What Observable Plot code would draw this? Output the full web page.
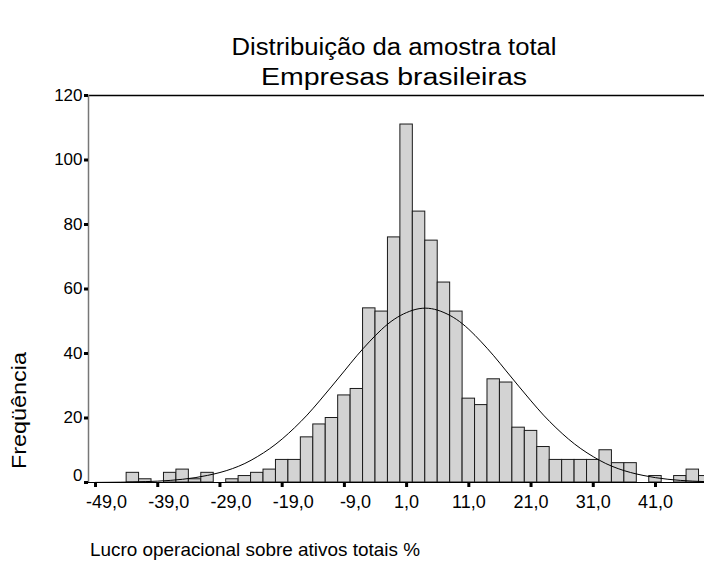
<!DOCTYPE html>
<html><head><meta charset="utf-8">
<script src="https://cdn.jsdelivr.net/npm/d3@7"></script>
<script src="https://cdn.jsdelivr.net/npm/@observablehq/plot@0.6"></script>
<style>
body{margin:0;background:#fff}
#chart{position:relative;width:704px;height:567px;overflow:hidden}
</style>
</head><body><div id="chart"></div>
<script>
// Histogram bins (centre of each 2-unit bin) and frequencies
const binCenters = [-49,-47,-45,-43,-41,-39,-37,-35,-33,-31,-29,-27,-25,-23,-21,-19,-17,-15,-13,-11,-9,-7,-5,-3,-1,1,3,5,7,9,11,13,15,17,19,21,23,25,27,29,31,33,35,37,39,41,43,45,47,49];
const binCounts  = [0,0,0,3,1,0,3,4,1,3,0,1,2,3,4,7,7,14,18,20,27,29,54,53,76,111,84,75,62,53,26,24,32,31,17,16,11,7,7,7,7,10,6,6,0,2,0,2,4,2];
const binWidth = 2;

// Normal curve overlay
const curveX = [-49,-47,-45,-43,-41,-39,-37,-35,-33,-31,-29,-27,-25,-23,-21,-19,-17,-15,-13,-11,-9,-7,-5,-3,-1,1,3,5,7,9,11,13,15,17,19,21,23,25,27,29,31,33,35,37,39,41,43,45,47,49,51];
const curveY = [0.03,0.06,0.1,0.16,0.27,0.42,0.65,1.0,1.5,2.2,3.1,4.3,5.9,8.0,10.5,13.5,17.0,20.9,25.3,29.9,34.6,39.3,43.6,47.5,50.6,52.7,53.9,53.9,52.7,50.6,47.5,43.6,39.3,34.6,29.9,25.3,20.9,17.0,13.5,10.5,8.0,5.9,4.3,3.1,2.2,1.5,1.0,0.65,0.42,0.27,0.16];

const xTicks = [-49,-39,-29,-19,-9,1,11,21,31,41];
const yTicks = [0,20,40,60,80,100,120];
const xDomain = [-50.13, 48.88];
const yDomain = [0, 120];

const title1 = "Distribuição da amostra total";
const title2 = "Empresas brasileiras";
const xLabel = "Lucro operacional sobre ativos totais %";
const yLabel = "Freqüência";

const bars = binCenters.map((c, i) => ({x1: c - binWidth / 2, x2: c + binWidth / 2, y: binCounts[i]})).filter(d => d.y > 0);
const curve = curveX.map((x, i) => ({x, y: curveY[i]}));

const font = "'Liberation Sans', Arial, sans-serif";
const fmt = d => d.toFixed(1).replace(".", ",");

const chart = Plot.plot({
  width: 704,
  height: 567,
  marginLeft: 88,
  marginRight: 0,
  marginTop: 95,
  marginBottom: 85,
  style: {fontFamily: font, fontSize: "17.5px", color: "#000", background: "#fff"},
  x: {domain: xDomain},
  y: {domain: yDomain},
  marks: [
    Plot.rectY(bars, {x1: "x1", x2: "x2", y: "y", fill: "#d3d3d3", stroke: "#1a1a1a", strokeWidth: 1, clip: true}),
    Plot.line(curve, {x: "x", y: "y", curve: "natural", stroke: "#000", strokeWidth: 1, clip: true}),
    Plot.ruleY([yDomain[1]], {stroke: "#000", strokeWidth: 1.5}),
    Plot.ruleY([0], {stroke: "#000", strokeWidth: 1}),
    Plot.ruleX([xDomain[0]], {stroke: "#777", strokeWidth: 1.5}),
    // y ticks and labels (the 0 label sits a little above its tick)
    Plot.axisY({ticks: yTicks, tickSize: 4, strokeWidth: 3, stroke: "#000", label: null, tickFormat: () => ""}),
    Plot.axisY(yTicks.filter(d => d > 0), {tickSize: 0, tickPadding: 6, label: null, fontSize: 17}),
    Plot.axisY(yTicks.filter(d => d === 0), {tickSize: 0, tickPadding: 6, dy: -7, label: null, fontSize: 17}),
    // x ticks and labels
    Plot.axisX({ticks: xTicks, tickSize: 5, strokeWidth: 3, stroke: "#000", label: null, tickFormat: () => ""}),
    Plot.axisX(xTicks.filter(d => d < 0), {tickSize: 0, tickPadding: 13, dx: 11, label: null, fontSize: 18, tickFormat: fmt}),
    Plot.axisX(xTicks.filter(d => d > 0), {tickSize: 0, tickPadding: 13, label: null, fontSize: 18, tickFormat: fmt})
  ]
});
document.getElementById("chart").append(chart);

const svg = d3.select(chart);
const addText = (txt, x, y, size, anchor, len, rotate) => {
  const t = svg.append("text")
    .attr("x", x).attr("y", y)
    .attr("font-family", font)
    .attr("font-size", size)
    .attr("text-anchor", anchor)
    .attr("fill", "#000")
    .text(txt);
  if (len) t.attr("textLength", len).attr("lengthAdjust", "spacingAndGlyphs");
  if (rotate) t.attr("transform", `rotate(${rotate},${x},${y})`);
  return t;
};
addText(title1, 394, 55, 23, "middle", 325);
addText(title2, 394, 85, 23, "middle", 266);
addText(xLabel, 90, 556, 19, "start", 330);
addText(yLabel, 26, 469, 19.5, "start", 117, -90);
</script>
</body></html>
